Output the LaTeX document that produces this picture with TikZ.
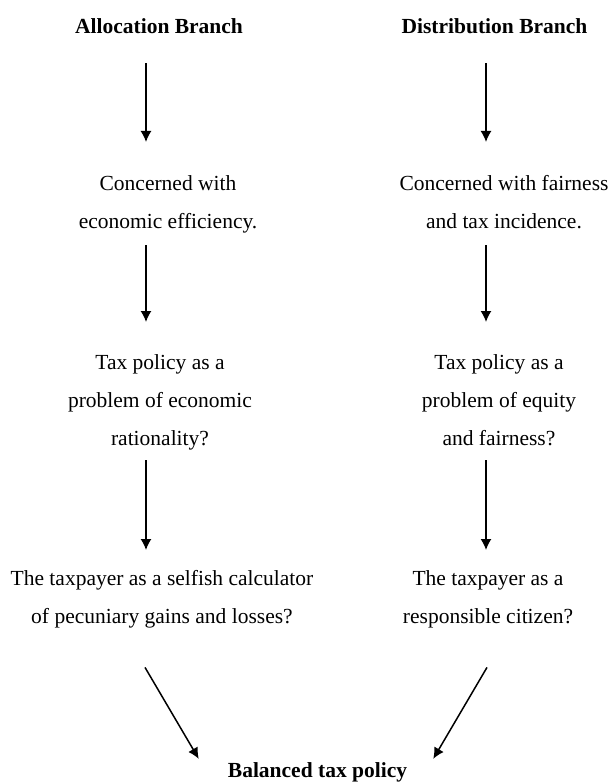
\documentclass[tikz,border=0pt]{standalone}
\usepackage{fontspec}
\setmainfont{Liberation Serif}
\usetikzlibrary{arrows.meta,calc}
\newcommand{\lnstrut}{\rule[-6pt]{0pt}{22pt}}

\begin{document}
\begin{tikzpicture}[x=1pt,y=-1pt,
    txt/.style={inner sep=0pt, align=center, font=\fontsize{21.5}{38}\selectfont},
    head/.style={txt, font=\fontsize{21.5}{38}\selectfont\bfseries},
    arr/.style={-{Latex[length=11pt,width=11pt]}, line width=1.5pt}]
  \useasboundingbox (0,0) rectangle (613,783);
  \coordinate (colL) at (146,0);
  \coordinate (colR) at (486,0);

  \node (alloc)[head, anchor=base] at (159,34) {\lnstrut Allocation Branch\lnstrut};
  \node (dist)[head, anchor=base] at (494.5,34) {\lnstrut Distribution Branch\lnstrut};

  \node (concL)[txt, anchor=north] at (168,174) {\lnstrut Concerned with\\economic efficiency.\lnstrut};
  \node (concR)[txt, anchor=north] at (504,174) {\lnstrut Concerned with fairness\\and tax incidence.\lnstrut};

  \node (taxL)[txt, anchor=north] at (160,353) {\lnstrut Tax policy as a\\problem of economic\\rationality?\lnstrut};
  \node (taxR)[txt, anchor=north] at (499,353) {\lnstrut Tax policy as a\\problem of equity\\and fairness?\lnstrut};

  \node (payL)[txt, anchor=north] at (162,569) {\lnstrut The taxpayer as a selfish calculator\\of pecuniary gains and losses?\lnstrut};
  \node (payR)[txt, anchor=north] at (488,569) {\lnstrut The taxpayer as a\\responsible citizen?\lnstrut};

  \node (bal)[head, anchor=base] at (317.5,777) {\lnstrut Balanced tax policy\lnstrut};

  \draw[arr, shorten <=23pt, shorten >=32pt] (alloc.south -| colL) -- (concL.north -| colL);
  \draw[arr, shorten <=23pt, shorten >=32pt] (dist.south -| colR) -- (concR.north -| colR);
  \draw[arr, shorten <=11pt, shorten >=31pt] (concL.south -| colL) -- (taxL.north -| colL);
  \draw[arr, shorten <=11pt, shorten >=31pt] (concR.south -| colR) -- (taxR.north -| colR);
  \draw[arr, shorten <=9pt, shorten >=19pt] (taxL.south -| colL) -- (payL.north -| colL);
  \draw[arr, shorten <=9pt, shorten >=19pt] (taxR.south -| colR) -- (payR.north -| colR);

  \draw[arr] ($(payL.south -| colL)+(-1,38)$) -- ([xshift=-29pt,yshift=2pt]bal.north west);
  \draw[arr] ($(payR.south -| colR)+(1,38)$) -- ([xshift=26pt,yshift=2pt]bal.north east);
\end{tikzpicture}
\end{document}
